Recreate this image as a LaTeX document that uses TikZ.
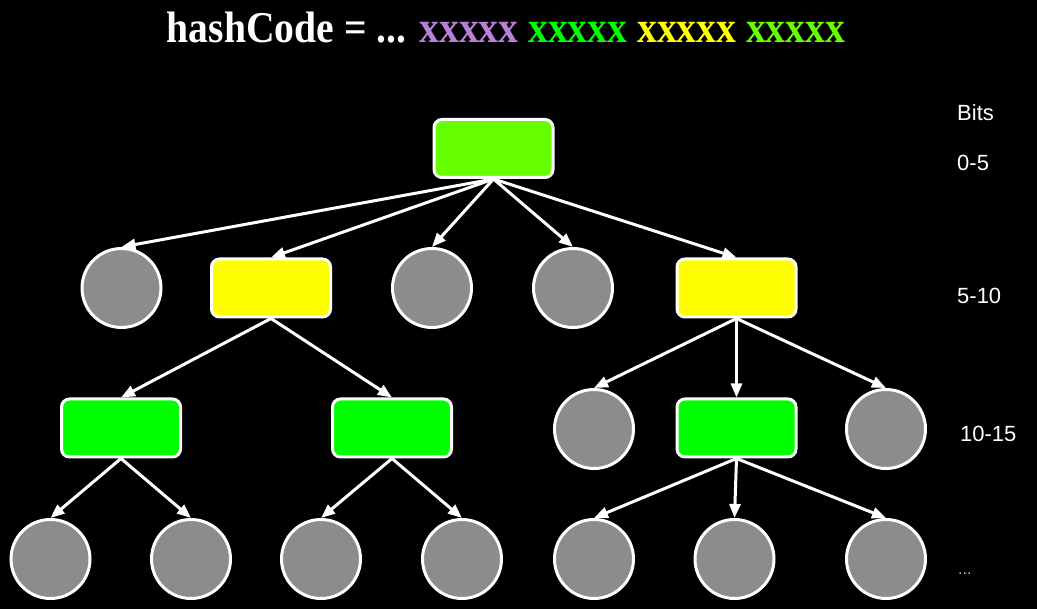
\documentclass[tikz,border=0pt]{standalone}
\usepackage{fontspec}
\setmainfont{Liberation Serif}
\newfontfamily\labfont{Liberation Sans}
\usetikzlibrary{arrows.meta}
\definecolor{lime}{HTML}{66FF00}
\definecolor{grn}{HTML}{00FF00}
\definecolor{yel}{HTML}{FFFF00}
\definecolor{purp}{HTML}{BA7FD8}
\definecolor{cgray}{HTML}{8C8C8C}
\tikzset{
  bx/.style={draw=white, line width=3pt, rounded corners=8pt, minimum width=119pt, minimum height=58pt, inner sep=0pt},
  cir/.style={circle, draw=white, line width=3pt, fill=cgray, minimum size=79pt, inner sep=0pt},
  edge/.style={draw=white, line width=3pt, -{Triangle[length=14pt,width=11pt]}},
  bits/.style={font=\labfont\fontsize{22}{24}\selectfont, text=white, anchor=base west, inner sep=0pt}
}
\begin{document}
\begin{tikzpicture}[x=1pt,y=-1pt]
\fill[black] (0,0) rectangle (1037,609);
\useasboundingbox (0,0) rectangle (1037,609);
\node[anchor=base, inner sep=0pt] (title) at (506,43) {\scalebox{0.9}[1]{\fontsize{44}{48}\selectfont\bfseries\color{white}hashCode = ... \color{purp}xxxxx \color{grn}xxxxx \color{yel}xxxxx \color{lime}xxxxx}};
% level 0
\node[bx, fill=lime] (r) at (493.5,148.5) {};
% level 1
\node[cir] (c1) at (121.5,288) {};
\node[bx, fill=yel] (y1) at (271,288) {};
\node[cir] (c2) at (432,288) {};
\node[cir] (c3) at (573,288) {};
\node[bx, fill=yel] (y2) at (736.5,288) {};
% level 2
\node[bx, fill=grn] (g1) at (121,428) {};
\node[bx, fill=grn] (g2) at (392,428) {};
\node[cir] (d1) at (594,429) {};
\node[bx, fill=grn] (g3) at (736.5,428) {};
\node[cir] (d2) at (886,429) {};
% level 3
\node[cir] (e1) at (50.5,559) {};
\node[cir] (e2) at (191,559) {};
\node[cir] (e3) at (321,559) {};
\node[cir] (e4) at (462,559) {};
\node[cir] (e5) at (594,559) {};
\node[cir] (e6) at (734.5,559) {};
\node[cir] (e7) at (886,559) {};
% edges
\foreach \t in {c1,y1,c2,c3,y2} \draw[edge] (r.south) -- (\t.north);
\foreach \t in {g1,g2} \draw[edge] (y1.south) -- (\t.north);
\foreach \t in {d1,g3,d2} \draw[edge] (y2.south) -- (\t.north);
\foreach \t in {e1,e2} \draw[edge] (g1.south) -- (\t.north);
\foreach \t in {e3,e4} \draw[edge] (g2.south) -- (\t.north);
\foreach \t in {e5,e6,e7} \draw[edge] (g3.south) -- (\t.north);
% labels
\node[bits] (lb) at (957,121) {Bits};
\node[bits] (l0) at (957,171) {0-5};
\node[bits] (l1) at (957,304) {5-10};
\node[bits] (l2) at (960,442) {10-15};
\node[bits, text=white!75!black, font=\labfont\fontsize{16}{18}\selectfont] (l3) at (958,574) {...};
\end{tikzpicture}
\end{document}
